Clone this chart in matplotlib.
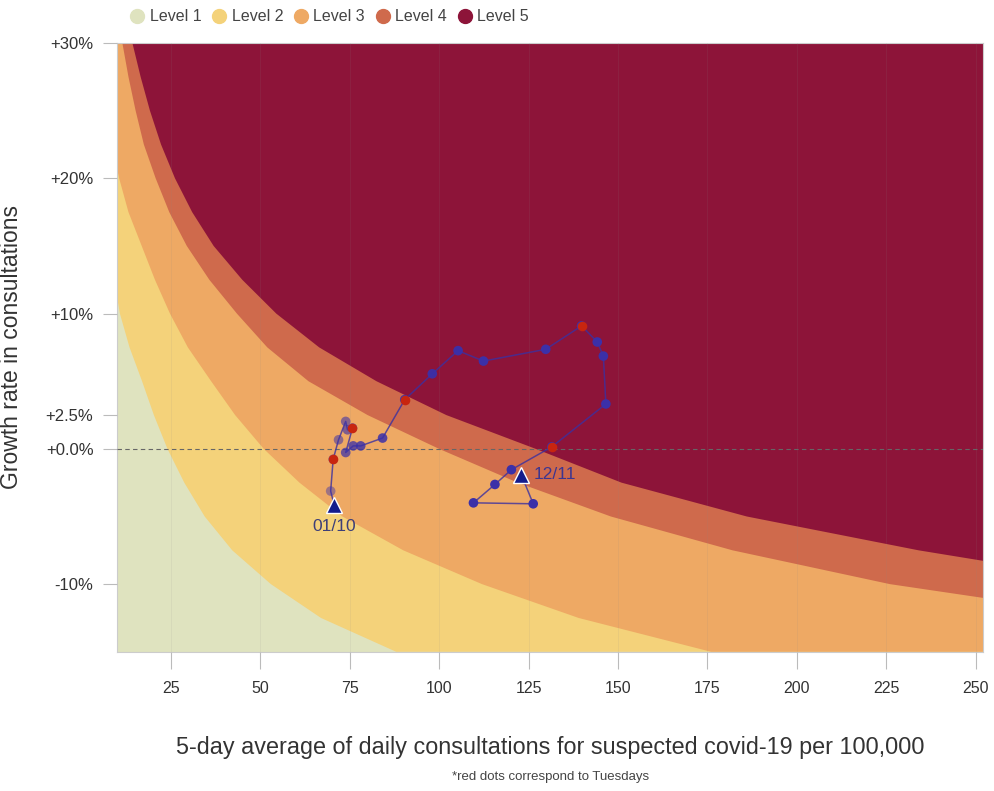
import numpy as np
import matplotlib
matplotlib.use("Agg")
import matplotlib.pyplot as plt
from matplotlib.lines import Line2D

plt.rcParams['font.family'] = ['Liberation Sans', 'DejaVu Sans']

# --- risk-level boundaries (x position at each growth rate, %)
growth_grid = [30, 27.5, 25, 22.5, 20, 17.5, 15, 12.5, 10, 7.5, 5, 2.5, 0,
               -2.5, -5, -7.5, -10, -12.5, -15]
edge_1_2 = [2.4, 2.9, 3.5, 4.3, 5.2, 6.3, 7.6, 9.2, 10.8, 13.5, 17.0, 20.3, 24.1,
            28.8, 34.5, 42.2, 53.0, 67.0, 88.0]
edge_2_3 = [4.8, 5.9, 7.2, 8.6, 10.6, 13.2, 16.9, 20.6, 24.8, 29.8, 36.3, 43.0, 51.0,
            61.0, 73.0, 90.0, 112, 139, 176]
edge_3_4 = [11.5, 13.2, 15.2, 17.5, 20.8, 24.6, 29.5, 35.8, 43.5, 52.0, 63.5, 80.0, 100,
            122, 148, 182, 226, 290, 360]
edge_4_5 = [14.3, 16.6, 19.2, 22.3, 26.2, 31.0, 37.0, 45.0, 54.5, 66.5, 82.5, 102, 127,
            151, 186, 234, 292, 360, 440]

level_names = ["Level 1", "Level 2", "Level 3", "Level 4", "Level 5"]
level_colors = ["#dfe3bf", "#f4d27a", "#eea964", "#cf6a4c", "#8d1439"]

# --- trajectory (01/10 -> 12/11)
traj_x = [70.7, 69.7, 70.4, 71.9, 73.9, 74.4, 75.8, 73.9, 76.0, 78.1, 84.2, 90.4, 98.1,
          105.3, 112.4, 129.8, 139.8, 144.2, 145.9, 146.6, 131.5, 120.2, 115.6, 109.6,
          126.3, 123.0]
traj_g = [-4.16, -3.12, -0.77, 0.67, 2.03, 1.41, 1.54, -0.27, 0.22, 0.22, 0.80, 3.64, 5.55,
          7.26, 6.49, 7.36, 9.09, 7.90, 6.86, 3.32, 0.15, -1.54, -2.63, -3.99, -4.06, -1.93]
tuesday_idx = [2, 6, 11, 16, 20]
start_label = "01/10"
end_label = "12/11"

xticks = [25, 50, 75, 100, 125, 150, 175, 200, 225, 250]
yticks = [-10, 0, 2.5, 10, 20, 30]
ytick_labels = ["-10%", "+0.0%", "+2.5%", "+10%", "+20%", "+30%"]

fig = plt.figure(figsize=(9.95, 7.91), dpi=100)
ax = fig.add_axes([0.1176, 0.176, 0.8704, 0.7696])

XMAX = 600
ax.set_facecolor(level_colors[0])
for edge, col in zip([edge_1_2, edge_2_3, edge_3_4, edge_4_5], level_colors[1:]):
    ax.fill_betweenx(growth_grid, edge, XMAX, color=col, lw=0, zorder=1)

ax.set_xlim(10, 252)
ax.set_ylim(-15, 30)
ax.set_axisbelow(False)
ax.grid(axis='x', color='#8a8a8a', alpha=0.12, lw=0.6)

ax.axhline(0, color='#666666', ls=(0, (4, 3)), lw=0.8, zorder=3)

# trajectory
ax.plot(traj_x, traj_g, color='#3b30a0', lw=1.1, alpha=0.8, zorder=4)
n = len(traj_x)
pt_colors = []
for i in range(n):
    a = min(1.0, 0.4 + 0.045 * i)
    pt_colors.append((0.23, 0.19, 0.66, a))
mid = list(range(1, n - 1))
ax.scatter([traj_x[i] for i in mid], [traj_g[i] for i in mid],
           s=48, c=[pt_colors[i] for i in mid], lw=0, zorder=5)
ax.scatter([traj_x[i] for i in tuesday_idx], [traj_g[i] for i in tuesday_idx],
           s=48, c='#c8250f', lw=0, zorder=6)
ax.plot([traj_x[0], traj_x[-1]], [traj_g[0], traj_g[-1]], ls='none', marker='^',
        ms=11, color='#141c8c', mec='white', mew=1.0, zorder=7)

ax.annotate(start_label, (traj_x[0], traj_g[0]), xytext=(0, -10), textcoords='offset points',
            ha='center', va='top', fontsize=12.5, color='#3d3f78', zorder=8)
ax.annotate(end_label, (traj_x[-1], traj_g[-1]), xytext=(9, 0), textcoords='offset points',
            ha='left', va='center', fontsize=12.5, color='#3d3590', zorder=8)

ax.set_xticks(xticks)
ax.set_yticks(yticks)
ax.set_yticklabels(ytick_labels)
ax.tick_params(axis='both', direction='out', color='#bbbbbb', labelcolor='#333333')
ax.tick_params(axis='x', length=12, pad=9, labelsize=11.5)
ax.tick_params(axis='y', length=10, pad=7, labelsize=12)
for s in ax.spines.values():
    s.set_color('#cccccc')
    s.set_linewidth(0.8)

ax.set_ylabel("Growth rate in consultations", fontsize=16.5, color='#333333')
ax.yaxis.set_label_coords(-0.108, 0.5)
ax.set_xlabel("5-day average of daily consultations for suspected covid-19 per 100,000",
              fontsize=16.8, color='#333333')
ax.xaxis.set_label_coords(0.5, -0.138)
fig.text(0.553, 0.018, "*red dots correspond to Tuesdays", ha='center', va='center',
         fontsize=9.5, color='#444444')

handles = [Line2D([], [], ls='none', marker='o', ms=10, color=c, mec=c) for c in level_colors]
fig.legend(handles, level_names, loc='center left', bbox_to_anchor=(0.115, 0.979), ncol=5,
           frameon=False, handletextpad=0.3, columnspacing=0.6, handlelength=1.0,
           fontsize=11.5, labelcolor='#444444')

fig.savefig("out.png", dpi=100)
